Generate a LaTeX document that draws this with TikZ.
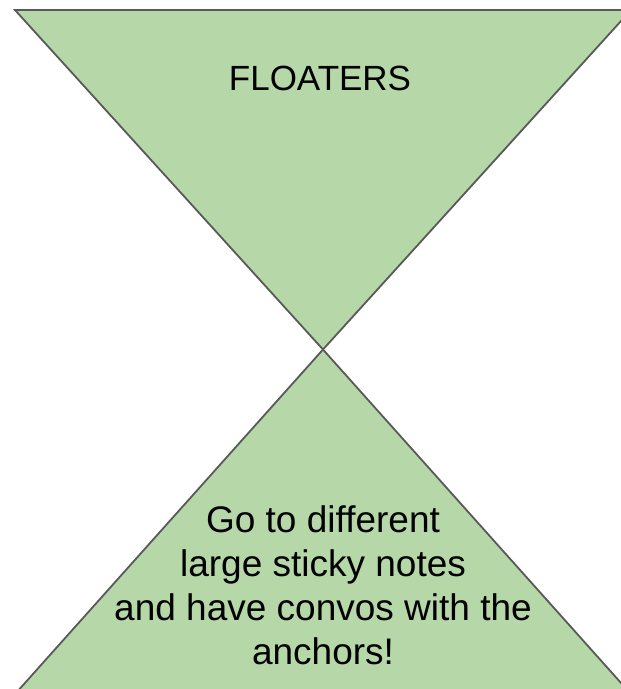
\documentclass[tikz,border=0pt]{standalone}
\usepackage{fontspec}
\setmainfont{Liberation Sans}
\definecolor{tri}{HTML}{B6D7A8}
\definecolor{edge}{HTML}{595959}
\begin{document}
\begin{tikzpicture}[x=1pt,y=-1pt,
  trishape/.style={fill=tri,draw=edge,line width=1.8pt,line join=miter},
  label/.style={inner sep=0pt,outer sep=0pt,text=black,anchor=base}]
\useasboundingbox (0,0) rectangle (621,689);
\clip (0,0) rectangle (621,689);
\coordinate (tl) at (15,10);
\coordinate (tr) at (631,10);
\coordinate (mid) at (323,349.5);
\coordinate (bl) at (16,693);
\coordinate (br) at (630,693);
\draw[trishape] (tl) -- (tr) -- (mid) -- cycle;
\draw[trishape] (mid) -- (br) -- (bl) -- cycle;
\node[label] (floaters) at (320,90.5) {\fontsize{35}{42}\selectfont FLOATERS};
\node[label] (msg) at (323,532) {\fontsize{37}{44}\selectfont\setlength{\tabcolsep}{0pt}%
  \begin{tabular}[t]{c}Go to different\\ large sticky notes\\ and have convos with the\\ anchors!\end{tabular}};
\end{tikzpicture}
\end{document}
